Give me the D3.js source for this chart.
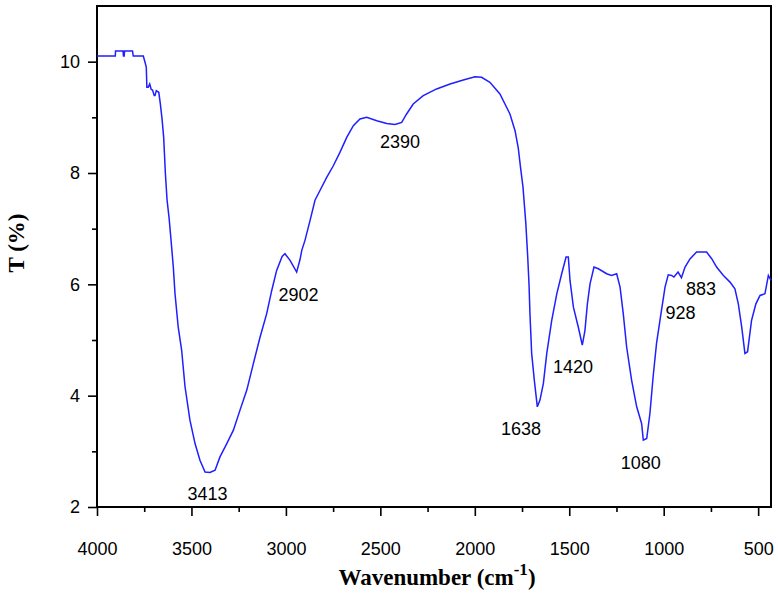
<!DOCTYPE html>
<html>
<head>
<meta charset="utf-8">
<script src="https://cdn.jsdelivr.net/npm/d3@7"></script>
<style>
  body { margin: 0; background: #fff; }
  svg { display: block; }
</style>
</head>
<body>
<svg id="chart" width="778" height="602"></svg>
<script>
// FTIR spectrum
let wavenumber = [4000, 3903, 3902, 3862, 3860, 3856, 3854, 3812, 3808, 3755, 3745, 3739, 3736, 3729,
    3721, 3713, 3706, 3697, 3693, 3686, 3673, 3665, 3656, 3647, 3638, 3629, 3618, 3608, 3596, 3587,
    3570, 3552, 3534, 3508, 3481, 3455, 3428, 3402, 3375, 3349, 3313, 3278, 3243, 3207, 3172, 3137,
    3102, 3075, 3049, 3020, 3005, 2978, 2943, 2925, 2916, 2899, 2890, 2872, 2846, 2819, 2784, 2749,
    2714, 2678, 2643, 2608, 2572, 2519, 2466, 2422, 2387, 2361, 2326, 2273, 2202, 2131, 2061, 1999,
    1964, 1920, 1867, 1814, 1787, 1770, 1758, 1745, 1730, 1720, 1713, 1708, 1699, 1685, 1669, 1655,
    1637, 1619, 1593, 1566, 1540, 1517, 1505, 1496, 1478, 1452, 1431, 1417, 1404, 1390, 1369, 1346,
    1302, 1276, 1249, 1231, 1214, 1196, 1170, 1143, 1117, 1108, 1090, 1073, 1056, 1038, 1020, 993,
    976, 958, 946, 924, 906, 887, 860, 826, 773, 746, 720, 684, 649, 623, 605, 587, 570, 556, 535,
    512, 490, 464, 446, 432];
let transmittance = [10.10, 10.10, 10.19, 10.19, 10.10, 10.10, 10.19, 10.19, 10.10, 10.10, 9.98, 9.90, 9.54, 9.54,
    9.60, 9.50, 9.49, 9.39, 9.39, 9.48, 9.45, 9.25, 8.98, 8.64, 7.99, 7.51, 7.18, 6.79, 6.31, 5.83,
    5.23, 4.82, 4.16, 3.56, 3.14, 2.84, 2.63, 2.62, 2.66, 2.90, 3.14, 3.38, 3.74, 4.10, 4.58, 5.05,
    5.47, 5.89, 6.25, 6.50, 6.55, 6.43, 6.22, 6.45, 6.61, 6.79, 6.91, 7.15, 7.51, 7.69, 7.92, 8.13,
    8.37, 8.64, 8.85, 8.97, 9.00, 8.94, 8.89, 8.87, 8.91, 9.06, 9.24, 9.39, 9.51, 9.60, 9.67, 9.73,
    9.72, 9.63, 9.42, 9.06, 8.76, 8.45, 8.10, 7.75, 7.10, 6.50, 6.00, 5.47, 4.76, 4.28, 3.80, 3.92,
    4.22, 4.76, 5.35, 5.83, 6.19, 6.49, 6.49, 6.07, 5.59, 5.23, 4.91, 5.17, 5.65, 6.01, 6.31, 6.28,
    6.19, 6.16, 6.19, 5.95, 5.47, 4.87, 4.28, 3.80, 3.50, 3.20, 3.23, 3.68, 4.34, 4.94, 5.35, 5.95,
    6.17, 6.16, 6.13, 6.22, 6.12, 6.31, 6.46, 6.58, 6.58, 6.46, 6.31, 6.16, 6.04, 5.92, 5.65, 5.23, 4.76, 4.79, 5.35,
    5.65, 5.80, 5.83, 6.16, 6.07];

// peak labels
let peakText = ["3413", "2902", "2390", "1638", "1420", "1080", "928", "883"];
let peakX = [3415, 2933, 2396, 1755, 1480, 1122, 911, 803];
let peakY = [2.13, 5.70, 8.45, 3.29, 4.41, 2.68, 5.38, 5.80];

let xTicks = [4000, 3500, 3000, 2500, 2000, 1500, 1000, 500];
let xMinor = [3750, 3250, 2750, 2250, 1750, 1250, 750];
let yTicks = [2, 4, 6, 8, 10];
let yMinor = [3, 5, 7, 9];

let margin = {left: 97, top: 6, right: 7, bottom: 95};
let width = 778 - margin.left - margin.right;
let height = 602 - margin.top - margin.bottom;

let svg = d3.select('#chart');
let g = svg.append('g')
    .attr('transform', 'translate(' + margin.left + ',' + margin.top + ')');

let xScale = d3.scaleLinear()
    .domain([4000, 432])
    .range([0, width]);
let yScale = d3.scaleLinear()
    .domain([2, 11])
    .range([height, 0]);

// minor ticks first
g.append('g')
    .attr('transform', 'translate(0,' + height + ')')
    .call(d3.axisBottom(xScale).tickValues(xMinor).tickSize(5).tickFormat(''))
    .call(a => a.select('.domain').remove());
g.append('g')
    .call(d3.axisLeft(yScale).tickValues(yMinor).tickSize(5).tickFormat(''))
    .call(a => a.select('.domain').remove());

let xAxis = g.append('g')
    .attr('class', 'x-axis')
    .attr('transform', 'translate(0,' + height + ')')
    .call(d3.axisBottom(xScale).tickValues(xTicks).tickSize(9).tickPadding(26).tickFormat(d3.format('d')));
let yAxis = g.append('g')
    .attr('class', 'y-axis')
    .call(d3.axisLeft(yScale).tickValues(yTicks).tickSize(9).tickPadding(8));

g.selectAll('.tick line').attr('stroke', '#000').attr('stroke-width', 1.6);
g.selectAll('.domain').remove();
g.selectAll('.tick text')
    .attr('fill', '#000')
    .style('font-family', '"Liberation Sans", Arial, sans-serif')
    .style('font-size', '18px');

// frame
g.append('rect')
    .attr('x', 0)
    .attr('y', 0)
    .attr('width', width)
    .attr('height', height)
    .attr('fill', 'none')
    .attr('stroke', '#000')
    .attr('stroke-width', 2);

let line = d3.line()
    .x((d, i) => xScale(wavenumber[i]))
    .y(d => yScale(d));

g.append('path')
    .datum(transmittance)
    .attr('d', line)
    .attr('fill', 'none')
    .attr('stroke', '#1f1fff')
    .attr('stroke-width', 1.5);

g.selectAll('.peak')
    .data(peakText)
    .enter().append('text')
    .attr('class', 'peak')
    .attr('x', (d, i) => xScale(peakX[i]))
    .attr('y', (d, i) => yScale(peakY[i]))
    .attr('text-anchor', 'middle')
    .style('font-family', '"Liberation Sans", Arial, sans-serif')
    .style('font-size', '18px')
    .attr('fill', '#000')
    .text(d => d);

// axis titles
let xTitle = svg.append('text')
    .attr('x', 437)
    .attr('y', 585)
    .attr('text-anchor', 'middle')
    .style('font-family', '"Liberation Serif", "Times New Roman", serif')
    .style('font-weight', 'bold')
    .style('font-size', '23px')
    .attr('fill', '#000');
xTitle.append('tspan').text('Wavenumber (cm');
xTitle.append('tspan').attr('dy', -10).style('font-size', '17px').text('-1');
xTitle.append('tspan').attr('dy', 10).text(')');

svg.append('text')
    .attr('transform', 'translate(24,243) rotate(-90)')
    .attr('text-anchor', 'middle')
    .style('font-family', '"Liberation Serif", "Times New Roman", serif')
    .style('font-weight', 'bold')
    .style('font-size', '23px')
    .attr('fill', '#000')
    .text('T (%)');
</script>
</body>
</html>
